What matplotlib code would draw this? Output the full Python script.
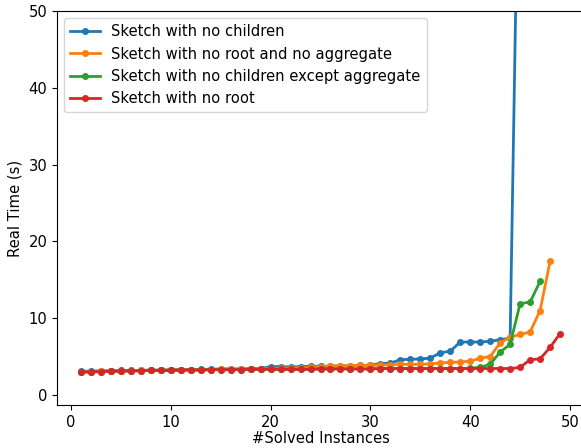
import matplotlib.pyplot as plt

# Datos (tiempo real por instancia resuelta)
blue_y = [3.1, 3.1, 3.15, 3.15, 3.2, 3.2, 3.2, 3.25, 3.25, 3.3,
          3.3, 3.3, 3.35, 3.35, 3.4, 3.4, 3.4, 3.45, 3.45, 3.7,
          3.7, 3.65, 3.7, 3.75, 3.75, 3.75, 3.8, 3.8, 3.85, 3.9,
          4.1, 4.15, 4.6, 4.65, 4.7, 4.8, 5.5, 5.7, 6.9, 6.9,
          6.9, 7.0, 7.2, 7.4, 85.0]
orange_y = [3.0, 3.05, 3.1, 3.1, 3.15, 3.15, 3.2, 3.2, 3.2, 3.25,
            3.25, 3.3, 3.3, 3.3, 3.35, 3.35, 3.4, 3.4, 3.45, 3.45,
            3.5, 3.5, 3.55, 3.6, 3.7, 3.75, 3.8, 3.8, 3.85, 3.85,
            3.9, 3.95, 4.0, 4.0, 4.0, 4.05, 4.2, 4.25, 4.3, 4.4,
            4.8, 5.0, 6.8, 7.5, 7.9, 8.2, 11.0, 17.4]
green_y = [3.0, 3.0, 3.05, 3.1, 3.1, 3.15, 3.15, 3.2, 3.2, 3.2,
           3.25, 3.25, 3.25, 3.3, 3.3, 3.3, 3.3, 3.35, 3.35, 3.35,
           3.35, 3.35, 3.35, 3.35, 3.4, 3.4, 3.4, 3.4, 3.4, 3.4,
           3.45, 3.45, 3.45, 3.45, 3.45, 3.45, 3.45, 3.45, 3.45, 3.5,
           3.6, 4.0, 5.6, 6.6, 11.9, 12.1, 14.8]
red_y = [3.0, 3.0, 3.05, 3.1, 3.1, 3.15, 3.15, 3.2, 3.2, 3.2,
         3.25, 3.25, 3.25, 3.3, 3.3, 3.3, 3.3, 3.35, 3.35, 3.35,
         3.35, 3.35, 3.35, 3.35, 3.4, 3.4, 3.4, 3.4, 3.4, 3.4,
         3.45, 3.45, 3.45, 3.45, 3.45, 3.45, 3.45, 3.45, 3.45, 3.45,
         3.45, 3.45, 3.45, 3.45, 3.6, 4.6, 4.7, 6.2, 8.0]

series = [
    ('Sketch with no children', blue_y, '#1f77b4'),
    ('Sketch with no root and no aggregate', orange_y, '#ff7f0e'),
    ('Sketch with no children except aggregate', green_y, '#2ca02c'),
    ('Sketch with no root', red_y, '#d62728'),
]

plt.rcParams['font.size'] = 10.6

fig = plt.figure(figsize=(5.81, 4.48), dpi=100)
# los ejes se salen un poco por la derecha, como en la figura original recortada
ax = fig.add_axes([57 / 581, 1 - 405 / 448, 527 / 581, 394 / 448])

for nombre, valores, color in series:
    xs = list(range(1, len(valores) + 1))
    ax.plot(xs, valores, marker='.', markersize=8, linewidth=2,
            color=color, label=nombre)

ax.set_xlim(-1.4, 51.4)
ax.set_ylim(-1.3, 50)
ax.set_xticks([0, 10, 20, 30, 40, 50])
ax.set_yticks([0, 10, 20, 30, 40, 50])
ax.set_xlabel('#Solved Instances', labelpad=1)
ax.set_ylabel('Real Time (s)')
ax.legend(loc='upper left', fontsize=10.6)

fig.savefig('out.png', dpi=100)
